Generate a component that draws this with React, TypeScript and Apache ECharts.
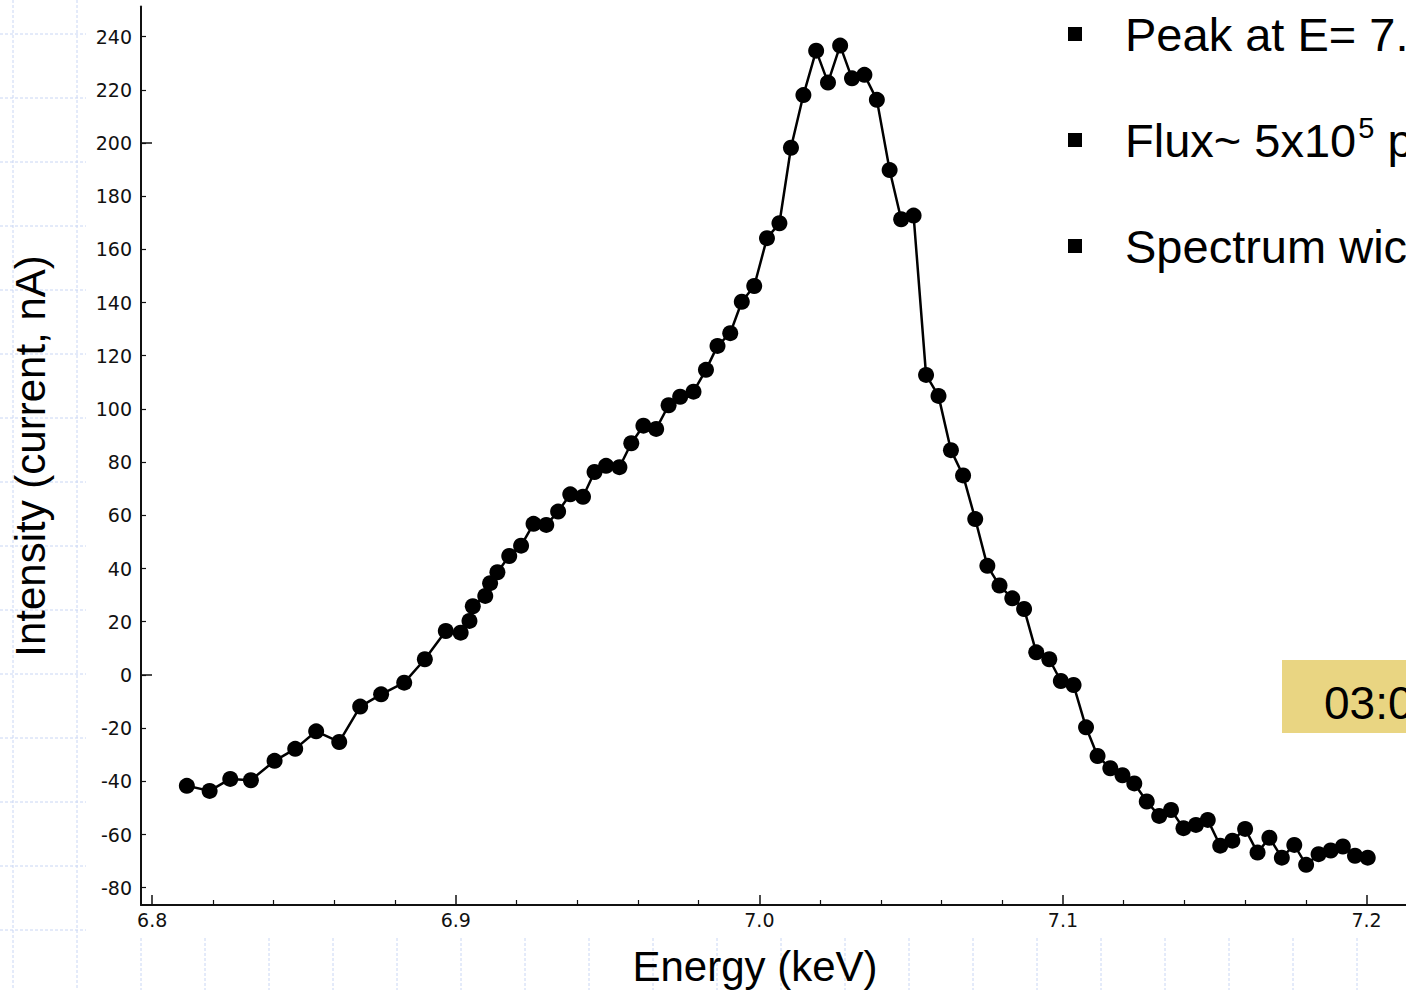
import React, { useEffect, useRef } from "react";
import * as echarts from "echarts";

// Measured spectrum: photon energy (keV) and detector current (nA)
const energy = [
  6.8114, 6.8189, 6.8257, 6.8325, 6.8403, 6.8471, 6.854, 6.8616, 6.8685, 6.8754, 6.883, 6.8898, 6.8967,
  6.9016, 6.9045, 6.9056, 6.9097, 6.9113, 6.9137, 6.9176, 6.9215, 6.9256, 6.9298, 6.9337, 6.9377, 6.9419,
  6.9457, 6.9495, 6.9539, 6.9578, 6.9618, 6.966, 6.9701, 6.9739, 6.9783, 6.9824, 6.9862, 6.9904, 6.9942,
  6.9983, 7.0025, 7.0066, 7.0104, 7.0145, 7.0187, 7.0226, 7.0266, 7.0305, 7.0346, 7.0387, 7.0429, 7.0467,
  7.0508, 7.0549, 7.059, 7.0631, 7.0671, 7.0711, 7.0751, 7.0791, 7.0833, 7.0872, 7.0912, 7.0955, 7.0993,
  7.1035, 7.1076, 7.1114, 7.1156, 7.1196, 7.1235, 7.1276, 7.1317, 7.1356, 7.1397, 7.1438, 7.1477, 7.1518,
  7.1558, 7.16, 7.1641, 7.168, 7.1721, 7.1762, 7.1801, 7.1842, 7.1882, 7.1922, 7.1962, 7.2004,
];

const intensity = [
  -41.7, -43.6, -39.1, -39.6, -32.3, -27.8, -21.2, -25.2, -11.9, -7.3, -2.9, 5.9, 16.5,
  15.9, 20.3, 25.8, 29.7, 34.5, 38.6, 44.7, 48.6, 56.8, 56.4, 61.4, 67.9, 67.0,
  76.3, 78.6, 78.1, 87.1, 93.7, 92.5, 101.4, 104.6, 106.5, 114.7, 123.7, 128.5, 140.3,
  146.2, 164.2, 169.8, 198.2, 218.0, 234.7, 222.7, 236.6, 224.3, 225.6, 216.2, 189.8, 171.3,
  172.7, 112.8, 104.9, 84.5, 75.0, 58.6, 41.0, 33.6, 28.8, 24.8, 8.5, 5.9, -2.3,
  -3.8, -19.7, -30.5, -35.1, -37.7, -40.8, -47.6, -53.0, -50.8, -57.6, -56.4, -54.5, -64.2,
  -62.3, -57.9, -66.8, -61.2, -68.7, -63.9, -71.4, -67.4, -66.0, -64.5, -68.0, -68.7,
];

// Axis ticks
const xTickValues = [6.8, 6.9, 7.0, 7.1, 7.2];
const xMinorTicks = [
  6.82, 6.84, 6.86, 6.88, 6.92, 6.94, 6.96, 6.98, 7.02, 7.04, 7.06, 7.08, 7.12, 7.14, 7.16, 7.18,
];
const yTickValues = [-80, -60, -40, -20, 0, 20, 40, 60, 80, 100, 120, 140, 160, 180, 200, 220, 240];
const yMajorTicks = [0, 200];

// Axis and slide texts
const xTitle = "Energy (keV)";
const yTitle = "Intensity (current, nA)";
const bulletLines = ["Peak at E= 7.", "Flux~ 5x10", "Spectrum wic"];
const fluxExponent = "5";
const fluxTail = " p";
const timerText = "03:0";

const X_MIN = 6.7963;
const X_MAX = 7.213;
const Y_MIN = -86.5;
const Y_MAX = 251.3;

const TICK_FONT = "DejaVu Sans";
const TEXT_FONT = "Liberation Sans, Arial, sans-serif";
const GRID_BLUE = "#c9d6f4";

function measure(text: string, size: number): number {
  const c = document.createElement("canvas").getContext("2d");
  if (!c) return text.length * size * 0.55;
  c.font = `${size}px "Liberation Sans"`;
  return c.measureText(text).width;
}

function label(text: string, x: number, y: number, size: number, align = "left", extra: any = {}) {
  return {
    type: "text",
    silent: true,
    z: 10,
    x,
    y,
    ...extra,
    style: {
      text,
      fontSize: size,
      fontFamily: TEXT_FONT,
      fill: "#000",
      align,
      verticalAlign: "middle",
      textAlign: align,
      textVerticalAlign: "middle",
    },
  };
}

export default function App() {
  const ref = useRef<HTMLDivElement>(null);

  useEffect(() => {
    if (!ref.current) return;
    const chart = echarts.init(ref.current, undefined, { renderer: "svg" });

    const points = energy.map((e, i) => [e, intensity[i]]);

    // Faint dashed slide grid visible around the plot image
    const bg: any[] = [];
    const dash = { stroke: GRID_BLUE, lineWidth: 1, lineDash: [3, 2] };
    for (let y = 34; y <= 990; y += 64) {
      bg.push({ type: "line", silent: true, z: 0, shape: { x1: 0, y1: y, x2: 86, y2: y }, style: dash });
    }
    [13, 77].forEach((x) =>
      bg.push({ type: "line", silent: true, z: 0, shape: { x1: x, y1: 0, x2: x, y2: 990 }, style: dash })
    );
    for (let x = 141; x <= 1406; x += 64) {
      bg.push({ type: "line", silent: true, z: 0, shape: { x1: x, y1: 938, x2: x, y2: 990 }, style: dash });
    }

    const fs = 47;
    const textX = 1125;
    const lineY = [34, 140, 246];
    const texts: any[] = [];
    lineY.forEach((y, i) => {
      texts.push({
        type: "rect",
        silent: true,
        z: 10,
        shape: { x: 1068, y: y - 7, width: 14, height: 14 },
        style: { fill: "#000" },
      });
      texts.push(label(bulletLines[i], textX, y, fs));
    });
    const baseW = measure(bulletLines[1], fs);
    const expW = measure(fluxExponent, 29);
    texts.push(label(fluxExponent, textX + baseW + 2, lineY[1] - 12, 29));
    texts.push(label(fluxTail, textX + baseW + 2 + expW, lineY[1], fs));

    // Timer badge
    texts.push({
      type: "rect",
      silent: true,
      z: 10,
      shape: { x: 1282, y: 660, width: 130, height: 73 },
      style: { fill: "#e9d582" },
    });
    texts.push({ ...label(timerText, 1324, 703, 46), z: 11 });

    // Axis titles
    texts.push(label(xTitle, 755, 966, 42, "center"));
    texts.push(label(yTitle, 30, 456, 42, "center", { rotation: Math.PI / 2 }));

    const axisLineStyle = { color: "#111", width: 2 };
    const tickLabel = {
      fontFamily: TICK_FONT,
      fontSize: 19,
      color: "#111",
    };

    chart.setOption({
      animation: false,
      backgroundColor: "#fff",
      grid: {
        left: 141,
        right: 0,
        top: 6.5,
        bottom: 85,
        containLabel: false,
        outerBoundsMode: "none",
      },
      xAxis: [
        {
          type: "value",
          min: X_MIN,
          max: X_MAX,
          position: "bottom",
          axisLine: { show: true, onZero: false, lineStyle: axisLineStyle },
          axisTick: {
            show: true,
            inside: true,
            length: 10,
            customValues: xTickValues,
            lineStyle: { color: "#111", width: 1.5 },
          },
          axisLabel: {
            ...tickLabel,
            margin: 5,
            customValues: xTickValues,
            formatter: (v: number) => v.toFixed(1),
          },
          splitLine: { show: false },
        },
        {
          type: "value",
          min: X_MIN,
          max: X_MAX,
          position: "bottom",
          axisLine: { show: false, onZero: false },
          axisTick: {
            show: true,
            inside: true,
            length: 5,
            customValues: xMinorTicks,
            lineStyle: { color: "#111", width: 1.2 },
          },
          axisLabel: { show: false },
          splitLine: { show: false },
        },
      ],
      yAxis: [
        {
          type: "value",
          min: Y_MIN,
          max: Y_MAX,
          position: "left",
          axisLine: { show: true, onZero: false, lineStyle: axisLineStyle },
          axisTick: {
            show: true,
            inside: true,
            length: 5,
            customValues: yTickValues,
            lineStyle: { color: "#111", width: 1.2 },
          },
          axisLabel: {
            ...tickLabel,
            margin: 9,
            customValues: yTickValues,
          },
          splitLine: { show: false },
        },
        {
          type: "value",
          min: Y_MIN,
          max: Y_MAX,
          position: "left",
          axisLine: { show: false, onZero: false },
          axisTick: {
            show: true,
            inside: true,
            length: 11,
            customValues: yMajorTicks,
            lineStyle: { color: "#111", width: 1.5 },
          },
          axisLabel: { show: false },
          splitLine: { show: false },
        },
      ],
      graphic: { elements: [...bg, ...texts] },
      series: [
        {
          type: "line",
          xAxisIndex: 0,
          yAxisIndex: 0,
          data: points,
          symbol: "circle",
          symbolSize: 16,
          showSymbol: true,
          itemStyle: { color: "#000" },
          lineStyle: { color: "#000", width: 2.5 },
          z: 5,
        },
      ],
    });

    return () => chart.dispose();
  }, []);

  return (
    <div
      ref={ref}
      style={{ position: "fixed", left: 0, top: 0, width: 1406, height: 990, background: "#fff" }}
    />
  );
}
